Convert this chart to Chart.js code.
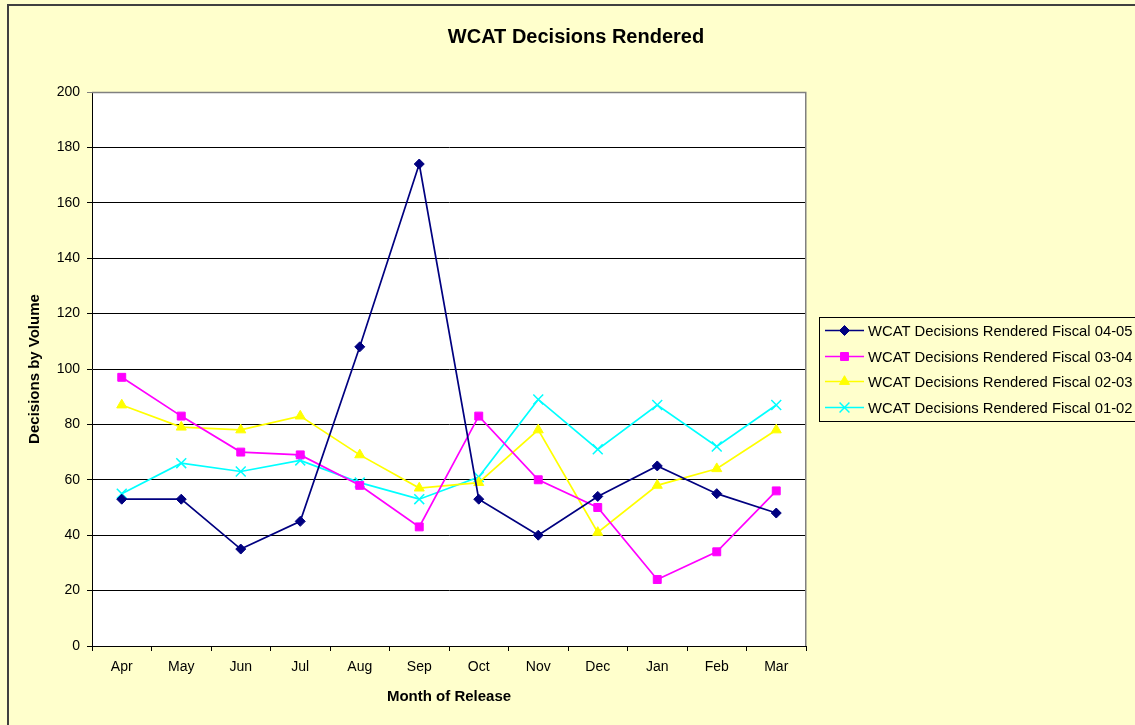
<!DOCTYPE html>
<html>
<head>
<meta charset="utf-8">
<script src="https://cdn.jsdelivr.net/npm/chart.js@4/dist/chart.umd.min.js"></script>
<style>
  html, body { margin: 0; padding: 0; background: #FFFFCC; }
  canvas { display: block; }
</style>
</head>
<body>
<canvas id="c" width="1135" height="725"></canvas>
<script>
const months = ['Apr', 'May', 'Jun', 'Jul', 'Aug', 'Sep', 'Oct', 'Nov', 'Dec', 'Jan', 'Feb', 'Mar'];
const fiscal0405 = [53, 53, 35, 45, 108, 174, 53, 40, 54, 65, 55, 48];
const fiscal0304 = [97, 83, 70, 69, 58, 43, 83, 60, 50, 24, 34, 56];
const fiscal0203 = [87, 79, 78, 83, 69, 57, 59, 78, 41, 58, 64, 78];
const fiscal0102 = [55, 66, 63, 67, 59, 53, 61, 89, 71, 87, 72, 87];
const seriesNames = [
  'WCAT Decisions Rendered Fiscal 04-05',
  'WCAT Decisions Rendered Fiscal 03-04',
  'WCAT Decisions Rendered Fiscal 02-03',
  'WCAT Decisions Rendered Fiscal 01-02'
];
const yTicks = [0, 20, 40, 60, 80, 100, 120, 140, 160, 180, 200];
const chartTitle = 'WCAT Decisions Rendered';

const FONT = "'Liberation Sans', Arial, sans-serif";

const bgPlugin = {
  id: 'bg',
  beforeDraw(chart) {
    const ctx = chart.ctx;
    const a = chart.chartArea;
    ctx.save();
    ctx.fillStyle = '#FFFFCC';
    ctx.fillRect(0, 0, chart.width, chart.height);
    ctx.strokeStyle = '#404040';
    ctx.lineWidth = 2;
    ctx.strokeRect(8, 5, chart.width + 20, chart.height + 20);
    ctx.fillStyle = '#FFFFFF';
    ctx.fillRect(a.left, a.top, a.right - a.left, a.bottom - a.top);
    // title
    ctx.fillStyle = '#000000';
    ctx.font = 'bold 20px ' + FONT;
    ctx.textAlign = 'center';
    ctx.textBaseline = 'middle';
    ctx.fillText(chartTitle, 576, 37);
    ctx.restore();
  },
  beforeDatasetsDraw(chart) {
    const ctx = chart.ctx;
    const a = chart.chartArea;
    ctx.save();
    ctx.strokeStyle = '#808080';
    ctx.lineWidth = 1.5;
    ctx.beginPath();
    ctx.moveTo(a.left, a.top + 0.5);
    ctx.lineTo(a.right - 0.25, a.top + 0.5);
    ctx.lineTo(a.right - 0.25, a.bottom);
    ctx.stroke();
    ctx.restore();
  }
};

const legendPlugin = {
  id: 'customLegend',
  afterDraw(chart) {
    const ctx = chart.ctx;
    ctx.save();
    ctx.strokeStyle = '#000000';
    ctx.lineWidth = 1;
    ctx.strokeRect(819.5, 317.5, 330, 104);
    const rows = [330.5, 356.5, 381.5, 407.5];
    chart.data.datasets.forEach((ds, i) => {
      const y = rows[i];
      ctx.strokeStyle = ds.borderColor;
      ctx.lineWidth = ds.borderWidth;
      ctx.beginPath();
      ctx.moveTo(825, y);
      ctx.lineTo(864, y);
      ctx.stroke();
      const opts = {
        pointStyle: ds.pointStyle,
        radius: ds.pointRadius,
        rotation: 0,
        borderWidth: ds.pointBorderWidth
      };
      ctx.fillStyle = ds.pointBackgroundColor;
      ctx.strokeStyle = ds.pointBorderColor;
      ctx.lineWidth = ds.pointBorderWidth;
      if (Chart.helpers && Chart.helpers.drawPoint) {
        Chart.helpers.drawPoint(ctx, opts, 844.5, y);
      }
      ctx.fillStyle = '#000000';
      ctx.font = '14.8px ' + FONT;
      ctx.textBaseline = 'middle';
      ctx.textAlign = 'left';
      ctx.fillText(seriesNames[i], 868, y + 1);
    });
    ctx.restore();
  }
};

function mk(label, data, color, style, radius, bw) {
  return {
    label: label,
    data: data,
    borderColor: color,
    backgroundColor: color,
    borderWidth: 1.7,
    pointStyle: style,
    pointRadius: radius,
    pointHoverRadius: radius,
    pointBackgroundColor: color,
    pointBorderColor: color,
    pointBorderWidth: bw,
    tension: 0,
    fill: false
  };
}

new Chart(document.getElementById('c'), {
  type: 'line',
  data: {
    labels: months,
    datasets: [
      mk(seriesNames[0], fiscal0405, '#000080', 'rectRot', 5, 1),
      mk(seriesNames[1], fiscal0304, '#FF00FF', 'rect', 5.6, 1),
      mk(seriesNames[2], fiscal0203, '#FFFF00', 'triangle', 5.8, 1),
      mk(seriesNames[3], fiscal0102, '#00FFFF', 'crossRot', 7, 1.5)
    ]
  },
  options: {
    responsive: false,
    devicePixelRatio: 1,
    animation: false,
    events: [],
    layout: { padding: { left: 0, top: 92, right: 329, bottom: 0 } },
    plugins: {
      legend: { display: false },
      tooltip: { enabled: false },
      title: { display: false }
    },
    scales: {
      x: {
        type: 'category',
        offset: true,
        afterFit(s) { s.height = 79; },
        grid: {
          offset: true,
          drawOnChartArea: false,
          drawTicks: true,
          tickLength: 5,
          color: '#000000',
          lineWidth: 1
        },
        border: { display: true, color: '#000000', width: 1 },
        ticks: {
          color: '#000000',
          font: { family: FONT, size: 14 },
          padding: 8,
          maxRotation: 0,
          autoSkip: false
        },
        title: {
          display: true,
          text: 'Month of Release',
          color: '#000000',
          font: { family: FONT, size: 15, weight: 'bold' },
          padding: { top: 0, bottom: 19 }
        }
      },
      y: {
        min: 0,
        max: 200,
        afterFit(s) { s.width = 92; },
        afterBuildTicks(s) { s.ticks = yTicks.map(v => ({ value: v })); },
        grid: {
          drawTicks: true,
          tickLength: 5,
          color: (c) => (c.tick && c.tick.value === 200 ? '#808080' : '#000000'),
          lineWidth: 1
        },
        border: { display: true, color: '#000000', width: 1 },
        ticks: {
          color: '#000000',
          font: { family: FONT, size: 14 },
          padding: 7,
          stepSize: 20
        },
        title: {
          display: true,
          text: 'Decisions by Volume',
          color: '#000000',
          font: { family: FONT, size: 15, weight: 'bold' },
          padding: { top: 26, bottom: 0 }
        }
      }
    }
  },
  plugins: [bgPlugin, legendPlugin]
});
</script>
</body>
</html>
